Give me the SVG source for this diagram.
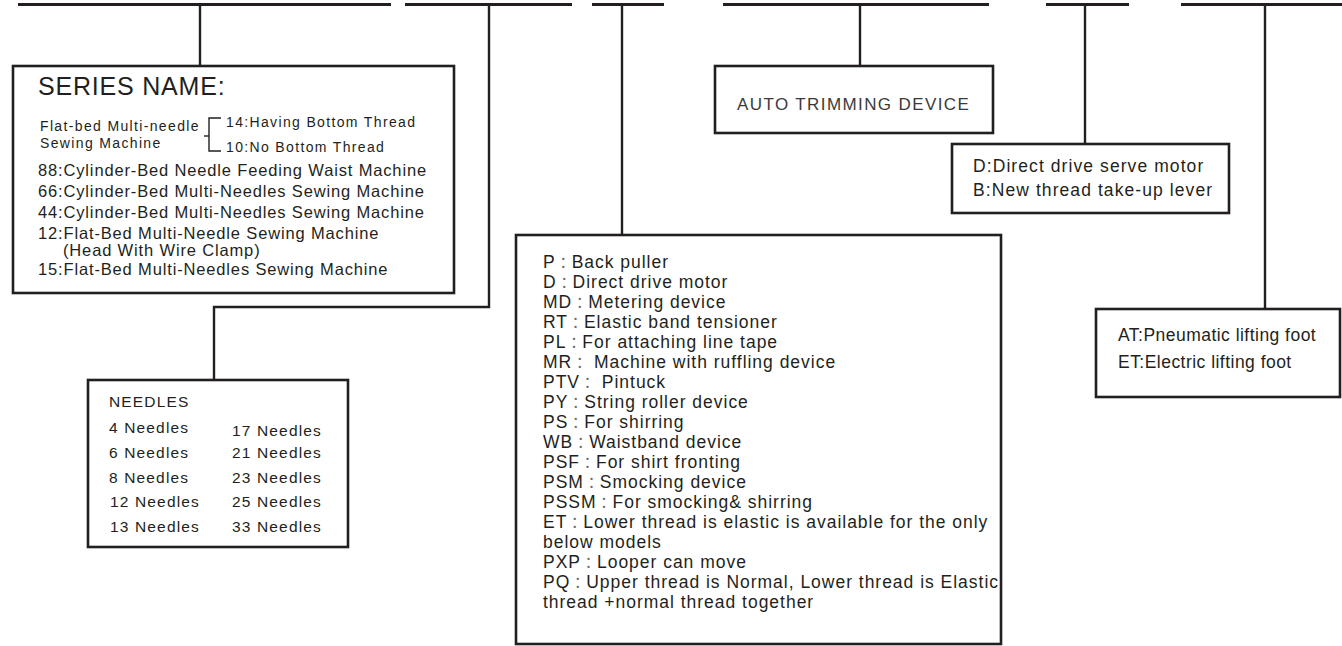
<svg xmlns="http://www.w3.org/2000/svg" width="1342" height="646" viewBox="0 0 1342 646">
<style>
  .bar{stroke:#231f20;stroke-width:3.2;fill:none}
  .ln{stroke:#231f20;stroke-width:2.4;fill:none}
  .box{stroke:#231f20;stroke-width:2.6;fill:#fff}
  .thin{stroke:#231f20;stroke-width:1.4;fill:none}
  text{font-family:"Liberation Sans","Noto Sans CJK JP",Arial,sans-serif;fill:#231f20}
  .title{font-size:25px;letter-spacing:0.8px}
  .sm{font-size:14px;letter-spacing:1.35px}
  .ser{font-size:16.5px;letter-spacing:0.85px}
  .nd{font-size:15.5px;letter-spacing:1.15px}
  .mid{font-size:17.5px;letter-spacing:0.98px}
  .c{font-family:"Noto Sans CJK JP",sans-serif;font-size:15px;fill:#6a6a6a}
  .auto{font-size:17px;letter-spacing:1.4px;fill:#3a3a3a}
  .rt{font-size:17.5px;letter-spacing:1.08px}
  .at{font-size:17.5px;letter-spacing:0.47px}
</style>
<rect width="1342" height="646" fill="#fff"/>
<g id="connectors">
  <line class="bar" x1="18" y1="4.5" x2="391" y2="4.5"/>
  <line class="bar" x1="405" y1="4.5" x2="572" y2="4.5"/>
  <line class="bar" x1="592" y1="4.5" x2="664" y2="4.5"/>
  <line class="bar" x1="723" y1="4.5" x2="989" y2="4.5"/>
  <line class="bar" x1="1046" y1="4.5" x2="1129" y2="4.5"/>
  <line class="bar" x1="1181" y1="4.5" x2="1342" y2="4.5"/>
  <line class="ln" x1="200" y1="5" x2="200" y2="66"/>
  <polyline class="ln" points="489,5 489,307 214,307 214,380"/>
  <line class="ln" x1="622" y1="5" x2="622" y2="235"/>
  <line class="ln" x1="860" y1="5" x2="860" y2="66"/>
  <line class="ln" x1="1085" y1="5" x2="1085" y2="144"/>
  <line class="ln" x1="1265" y1="5" x2="1265" y2="309"/>
</g>
<g id="series">
  <rect class="box" x="13" y="66" width="441" height="227"/>
  <text class="title" x="38" y="95">SERIES NAME:</text>
  <text class="sm" x="40" y="131">Flat-bed Multi-needle</text>
  <text class="sm" x="40" y="148">Sewing Machine</text>
  <polyline class="thin" points="221,118 209,118 209,151 221,151"/>
  <line class="thin" x1="204" y1="136" x2="209" y2="136"/>
  <text class="sm" x="226" y="127">14:Having Bottom Thread</text>
  <text class="sm" x="226" y="152">10:No Bottom Thread</text>
  <text class="ser" x="38" y="176">88:Cylinder-Bed Needle Feeding Waist Machine</text>
  <text class="ser" x="38" y="197">66:Cylinder-Bed Multi-Needles Sewing Machine</text>
  <text class="ser" x="38" y="218">44:Cylinder-Bed Multi-Needles Sewing Machine</text>
  <text class="ser" x="38" y="239">12:Flat-Bed Multi-Needle Sewing Machine</text>
  <text class="ser" x="63" y="256">(Head With Wire Clamp)</text>
  <text class="ser" x="38" y="275">15:Flat-Bed Multi-Needles Sewing Machine</text>
</g>
<g id="needles">
  <rect class="box" x="88" y="380" width="260" height="167"/>
  <text class="nd" x="109" y="407">NEEDLES</text>
  <text class="nd" x="109" y="433">4 Needles</text>
  <text class="nd" x="109" y="458">6 Needles</text>
  <text class="nd" x="109" y="483">8 Needles</text>
  <text class="nd" x="110" y="507">12 Needles</text>
  <text class="nd" x="110" y="532">13 Needles</text>
  <text class="nd" x="232" y="436">17 Needles</text>
  <text class="nd" x="232" y="458">21 Needles</text>
  <text class="nd" x="232" y="483">23 Needles</text>
  <text class="nd" x="232" y="507">25 Needles</text>
  <text class="nd" x="232" y="532">33 Needles</text>
</g>
<g id="options">
  <rect class="box" x="516" y="235" width="485" height="409"/>
  <text class="mid" x="543" y="268">P<tspan class="c">：</tspan>Back puller</text>
  <text class="mid" x="543" y="288">D<tspan class="c">：</tspan>Direct drive motor</text>
  <text class="mid" x="543" y="308">MD<tspan class="c">：</tspan>Metering device</text>
  <text class="mid" x="543" y="328">RT<tspan class="c">：</tspan>Elastic band tensioner</text>
  <text class="mid" x="543" y="348">PL<tspan class="c">：</tspan>For attaching line tape</text>
  <text class="mid" x="543" y="368">MR<tspan class="c">：</tspan> Machine with ruffling device</text>
  <text class="mid" x="543" y="388">PTV<tspan class="c">：</tspan> Pintuck</text>
  <text class="mid" x="543" y="408">PY<tspan class="c">：</tspan>String roller device</text>
  <text class="mid" x="543" y="428">PS<tspan class="c">：</tspan>For shirring</text>
  <text class="mid" x="543" y="448">WB<tspan class="c">：</tspan>Waistband device</text>
  <text class="mid" x="543" y="468">PSF<tspan class="c">：</tspan>For shirt fronting</text>
  <text class="mid" x="543" y="488">PSM<tspan class="c">：</tspan>Smocking device</text>
  <text class="mid" x="543" y="508">PSSM<tspan class="c">：</tspan>For smocking&amp; shirring</text>
  <text class="mid" x="543" y="528">ET<tspan class="c">：</tspan>Lower thread is elastic is available for the only</text>
  <text class="mid" x="543" y="548">below models</text>
  <text class="mid" x="543" y="568">PXP<tspan class="c">：</tspan>Looper can move</text>
  <text class="mid" x="543" y="588">PQ<tspan class="c">：</tspan>Upper thread is Normal, Lower thread is Elastic</text>
  <text class="mid" x="543" y="608">thread +normal thread together</text>
</g>
<g id="auto">
  <rect class="box" x="715" y="66" width="278" height="67"/>
  <text class="auto" x="737" y="110">AUTO TRIMMING DEVICE</text>
</g>
<g id="motor">
  <rect class="box" x="952" y="144" width="277" height="69"/>
  <text class="rt" x="973" y="172">D:Direct drive serve motor</text>
  <text class="rt" x="973" y="196">B:New thread take-up lever</text>
</g>
<g id="foot">
  <rect class="box" x="1096" y="309" width="244" height="88"/>
  <text class="at" x="1118" y="341">AT:Pneumatic lifting foot</text>
  <text class="at" x="1118" y="368">ET:Electric lifting foot</text>
</g>
</svg>
